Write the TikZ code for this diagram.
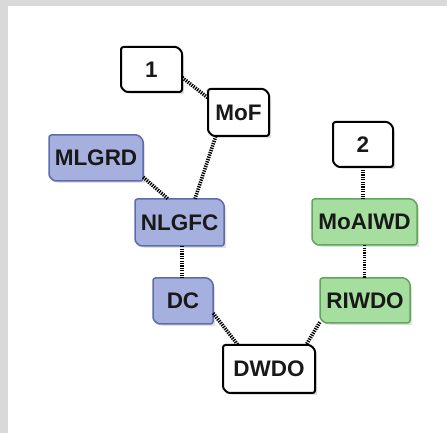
\documentclass[tikz,border=0pt]{standalone}
\usepackage{fontspec}
\setmainfont{Liberation Sans}
\usetikzlibrary{calc}
\definecolor{framegray}{HTML}{D9D9D9}
\definecolor{bfill}{HTML}{A6B0DF}
\definecolor{bborder}{HTML}{5D6CAC}
\definecolor{gfill}{HTML}{A6DEA0}
\definecolor{gborder}{HTML}{5FA55A}
\tikzset{
  link/.style={line width=3.6pt, dash pattern=on 1.3pt off 1.1pt, black},
  wbox/.style={draw=black, line width=2pt, fill=white},
  bbox/.style={draw=bborder, line width=1.5pt, fill=bfill},
  gbox/.style={draw=gborder, line width=1.5pt, fill=gfill},
  lbl/.style={font=\bfseries\fontsize{22.5}{26}\selectfont, text=black!90, inner sep=0pt, draw=none}
}
% name, left, top, right, bottom (pixels, y down), style, text
\newcommand\mybox[7]{%
  \fill[black, opacity=0.12] (#2+2,433-#3-2) -- (#4+2-9,433-#3-2) arc[start angle=90,end angle=0,radius=9pt] -- (#4+2,433-#5-2) -- (#2+2+9,433-#5-2) arc[start angle=270,end angle=180,radius=9pt] -- cycle;
  \draw[#6, rounded corners=2.5pt] (#2,433-#3) -- (#4-9,433-#3) arc[start angle=90,end angle=0,radius=9pt] -- (#4,433-#5) -- (#2+9,433-#5) arc[start angle=270,end angle=180,radius=9pt] -- cycle;
  \node[lbl, minimum width={(#4-#2)*1pt}, minimum height={(#5-#3)*1pt}] (#1) at ({(#2+#4)/2},{433-(#3+#5)/2}) {#7};
}
\begin{document}
\begin{tikzpicture}[x=1pt,y=1pt]
\useasboundingbox (0,0) rectangle (447,433);
\fill[framegray] (0,0) rectangle (447,433);
\fill[white] (8,0) rectangle (447,427);

\mybox{n1}{121}{47}{182}{92}{wbox}{1}
\mybox{mof}{208}{89}{269}{136}{wbox}{MoF}
\mybox{mlgrd}{49}{135}{143}{181}{bbox}{MLGRD}
\mybox{nlgfc}{135}{199}{224}{246}{bbox}{NLGFC}
\mybox{dc}{153}{278}{213}{324}{bbox}{DC}
\mybox{dwdo}{223}{345}{315}{393}{wbox}{DWDO}
\mybox{n2}{333}{122}{393}{167}{wbox}{2}
\mybox{moaiwd}{312}{199}{417}{245}{gbox}{MoAIWD}
\mybox{riwdo}{320}{278}{410}{323}{gbox}{RIWDO}

\draw[link] ([yshift=-8pt]n1.east) -- ([yshift=-9pt]mof.north west);
\draw[link] ([xshift=8pt]mof.south west) -- ([xshift=15.5pt]nlgfc.north);
\draw[link] ([yshift=4pt]mlgrd.south east) -- ([xshift=-11.5pt]nlgfc.north);
\draw[link] ([xshift=2.5pt]nlgfc.south) -- ([xshift=-1pt]dc.north);
\draw[link] ([yshift=11pt]dc.south east) -- ([xshift=15pt]dwdo.north west);
\draw[link] ([yshift=1pt]riwdo.south west) -- ([xshift=-9pt]dwdo.north east);
\draw[link] (n2.south) -- (n2.south |- moaiwd.north);
\draw[link] (moaiwd.south) -- (moaiwd.south |- riwdo.north);
\end{tikzpicture}
\end{document}
